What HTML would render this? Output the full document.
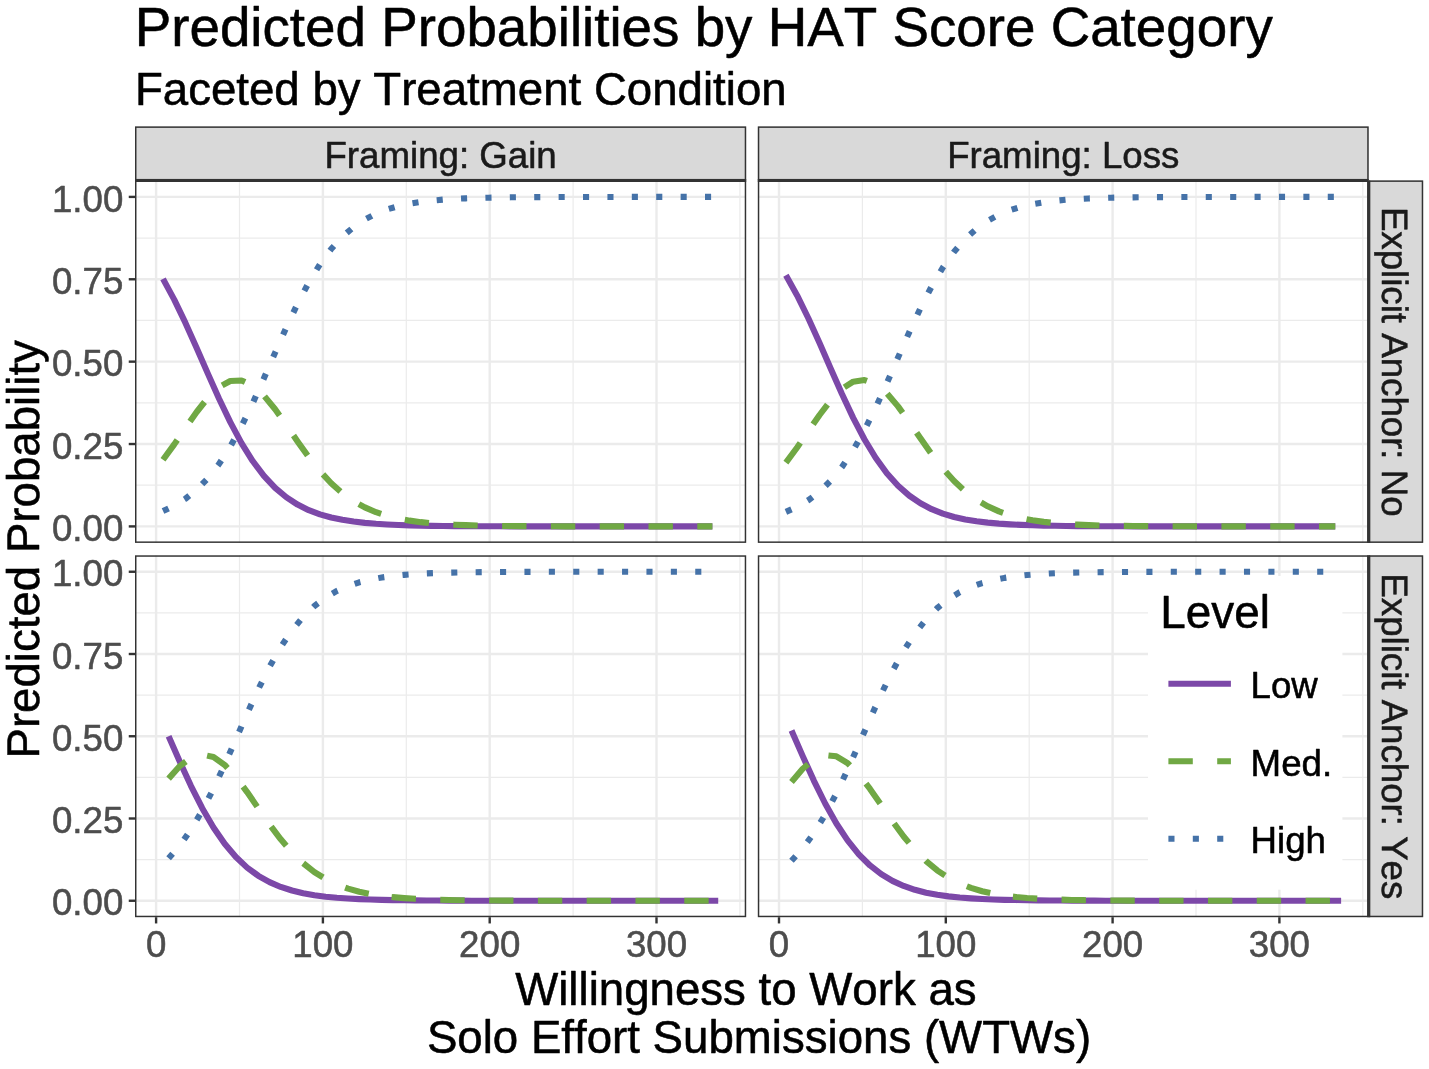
<!DOCTYPE html>
<html><head><meta charset="utf-8"><title>Predicted Probabilities by HAT Score Category</title>
<style>html,body{margin:0;padding:0;background:#fff}body{width:1429px;height:1069px;overflow:hidden;font-family:"Liberation Sans",sans-serif}svg{display:block;position:absolute;left:0;top:0;will-change:transform}svg text{stroke-width:0.55px;stroke-linejoin:round;font-kerning:none}.k{stroke:#000}.g{stroke:#4D4D4D}.s{stroke:#1A1A1A}</style>
</head><body>
<svg width="1429" height="1069" viewBox="0 0 1429 1069" font-family="'Liberation Sans', sans-serif">
<rect width="1429" height="1069" fill="#fff"/>
<defs>
<clipPath id="cp00"><rect x="135" y="180.4" width="611.2" height="362.5"/></clipPath>
<clipPath id="cp01"><rect x="757.8" y="180.4" width="610.9" height="362.5"/></clipPath>
<clipPath id="cp10"><rect x="135" y="555.3" width="611.2" height="361.9"/></clipPath>
<clipPath id="cp11"><rect x="757.8" y="555.3" width="610.9" height="361.9"/></clipPath>
</defs>
<g clip-path="url(#cp00)">
<line x1="239.5" x2="239.5" y1="180.4" y2="542.9" stroke="#EBEBEB" stroke-width="1.2"/>
<line x1="406.3" x2="406.3" y1="180.4" y2="542.9" stroke="#EBEBEB" stroke-width="1.2"/>
<line x1="573.1" x2="573.1" y1="180.4" y2="542.9" stroke="#EBEBEB" stroke-width="1.2"/>
<line x1="739.9" x2="739.9" y1="180.4" y2="542.9" stroke="#EBEBEB" stroke-width="1.2"/>
<line x1="135" x2="746.2" y1="485.21" y2="485.21" stroke="#EBEBEB" stroke-width="1.2"/>
<line x1="135" x2="746.2" y1="402.84" y2="402.84" stroke="#EBEBEB" stroke-width="1.2"/>
<line x1="135" x2="746.2" y1="320.46" y2="320.46" stroke="#EBEBEB" stroke-width="1.2"/>
<line x1="135" x2="746.2" y1="238.09" y2="238.09" stroke="#EBEBEB" stroke-width="1.2"/>
<line x1="156.1" x2="156.1" y1="180.4" y2="542.9" stroke="#EBEBEB" stroke-width="2.4"/>
<line x1="322.9" x2="322.9" y1="180.4" y2="542.9" stroke="#EBEBEB" stroke-width="2.4"/>
<line x1="489.7" x2="489.7" y1="180.4" y2="542.9" stroke="#EBEBEB" stroke-width="2.4"/>
<line x1="656.5" x2="656.5" y1="180.4" y2="542.9" stroke="#EBEBEB" stroke-width="2.4"/>
<line x1="135" x2="746.2" y1="526.4" y2="526.4" stroke="#EBEBEB" stroke-width="2.4"/>
<line x1="135" x2="746.2" y1="444.02" y2="444.02" stroke="#EBEBEB" stroke-width="2.4"/>
<line x1="135" x2="746.2" y1="361.65" y2="361.65" stroke="#EBEBEB" stroke-width="2.4"/>
<line x1="135" x2="746.2" y1="279.27" y2="279.27" stroke="#EBEBEB" stroke-width="2.4"/>
<line x1="135" x2="746.2" y1="196.9" y2="196.9" stroke="#EBEBEB" stroke-width="2.4"/>
<polyline points="163.02,278.92 174.23,299.63 185.44,322.91 196.66,347.95 207.87,373.64 219.08,398.76 230.29,422.18 241.5,443.08 252.71,461.01 263.92,475.87 275.14,487.85 286.35,497.28 297.56,504.58 308.77,510.15 319.98,514.35 331.19,517.5 342.4,519.84 353.62,521.57 364.83,522.86 376.04,523.8 387.25,524.49 398.46,525 409.67,525.38 420.88,525.65 432.09,525.85 443.31,526 454.52,526.11 465.73,526.19 476.94,526.24 488.15,526.28 499.36,526.32 510.57,526.34 521.79,526.35 533,526.37 544.21,526.38 555.42,526.38 566.63,526.39 577.84,526.39 589.05,526.39 600.26,526.39 611.48,526.4 622.69,526.4 633.9,526.4 645.11,526.4 656.32,526.4 667.53,526.4 678.74,526.4 689.96,526.4 701.17,526.4 712.38,526.4" fill="none" stroke="#7C48A8" stroke-width="6.1" stroke-linejoin="round"/>
<polyline points="163.02,459.78 174.23,444.36 184.16,429.91" fill="none" stroke="#70A844" stroke-width="6.1" stroke-linejoin="round" stroke-dasharray="24.4 24.4" stroke-dashoffset="0"/>
<polyline points="184.16,429.91 185.44,428.04 196.66,412.01 207.87,397.81 219.08,387 230.29,380.95 241.5,380.43 252.71,385.52 263.92,395.55 275.14,409.25 286.35,425.06 297.56,441.43 308.77,457.08 319.98,471.16 331.19,483.22 342.4,493.17 350.19,498.71" fill="none" stroke="#70A844" stroke-width="6.1" stroke-linejoin="round" stroke-dasharray="24.4 24.4" stroke-dashoffset="38.6"/>
<polyline points="350.19,498.71 353.62,501.14 364.83,507.38 376.04,512.18 387.25,515.83 398.46,518.58 409.67,520.63 420.88,522.15 432.09,523.28 443.31,524.11 454.52,524.72 465.73,525.17 476.94,525.5 488.15,525.74 499.36,525.92 510.57,526.05 521.79,526.14 533,526.21 544.21,526.26 555.42,526.3 566.63,526.33 577.84,526.35 589.05,526.36 600.26,526.37 611.48,526.38 622.69,526.38 633.9,526.39 645.11,526.39 656.32,526.39 667.53,526.4 678.74,526.4 689.96,526.4 701.17,526.4 712.38,526.4" fill="none" stroke="#70A844" stroke-width="6.1" stroke-linejoin="round" stroke-dasharray="24.4 24.4" stroke-dashoffset="38.6"/>
<polyline points="163.02,511 174.23,505.71 185.44,498.75 196.4,489.94" fill="none" stroke="#4572A8" stroke-width="6.1" stroke-linejoin="round" stroke-dasharray="6.1 18.3" stroke-dashoffset="0"/>
<polyline points="196.4,489.94 196.66,489.74 207.87,478.25 219.08,463.94 230.29,446.57 241.5,426.19 252.71,403.17 263.92,378.28 275.14,352.6 286.35,327.36 297.56,303.69 308.77,282.47 319.98,264.19 325.16,257.16" fill="none" stroke="#4572A8" stroke-width="6.1" stroke-linejoin="round" stroke-dasharray="6.1 18.3" stroke-dashoffset="16.25"/>
<polyline points="325.16,257.16 331.19,248.98 342.4,236.69 353.62,226.99 364.83,219.46 376.04,213.72 387.25,209.37 398.46,206.12 409.67,203.7 420.88,201.9 432.09,200.57 443.31,199.59 454.52,198.88 465.73,198.35 476.94,197.96 488.15,197.68 499.36,197.47 510.57,197.32 521.79,197.2 533,197.12 544.21,197.06 555.42,197.02 566.63,196.99 577.84,196.96 589.05,196.95 600.26,196.93 611.48,196.93 622.69,196.92 633.9,196.91 645.11,196.91 656.32,196.91 667.53,196.91 678.74,196.9 689.96,196.9 701.17,196.9 712.38,196.9" fill="none" stroke="#4572A8" stroke-width="6.1" stroke-linejoin="round" stroke-dasharray="6.1 18.3" stroke-dashoffset="16.25"/>
</g>
<g clip-path="url(#cp01)">
<line x1="862.4" x2="862.4" y1="180.4" y2="542.9" stroke="#EBEBEB" stroke-width="1.2"/>
<line x1="1029.2" x2="1029.2" y1="180.4" y2="542.9" stroke="#EBEBEB" stroke-width="1.2"/>
<line x1="1196" x2="1196" y1="180.4" y2="542.9" stroke="#EBEBEB" stroke-width="1.2"/>
<line x1="1362.8" x2="1362.8" y1="180.4" y2="542.9" stroke="#EBEBEB" stroke-width="1.2"/>
<line x1="757.8" x2="1368.7" y1="485.21" y2="485.21" stroke="#EBEBEB" stroke-width="1.2"/>
<line x1="757.8" x2="1368.7" y1="402.84" y2="402.84" stroke="#EBEBEB" stroke-width="1.2"/>
<line x1="757.8" x2="1368.7" y1="320.46" y2="320.46" stroke="#EBEBEB" stroke-width="1.2"/>
<line x1="757.8" x2="1368.7" y1="238.09" y2="238.09" stroke="#EBEBEB" stroke-width="1.2"/>
<line x1="779" x2="779" y1="180.4" y2="542.9" stroke="#EBEBEB" stroke-width="2.4"/>
<line x1="945.8" x2="945.8" y1="180.4" y2="542.9" stroke="#EBEBEB" stroke-width="2.4"/>
<line x1="1112.6" x2="1112.6" y1="180.4" y2="542.9" stroke="#EBEBEB" stroke-width="2.4"/>
<line x1="1279.4" x2="1279.4" y1="180.4" y2="542.9" stroke="#EBEBEB" stroke-width="2.4"/>
<line x1="757.8" x2="1368.7" y1="526.4" y2="526.4" stroke="#EBEBEB" stroke-width="2.4"/>
<line x1="757.8" x2="1368.7" y1="444.02" y2="444.02" stroke="#EBEBEB" stroke-width="2.4"/>
<line x1="757.8" x2="1368.7" y1="361.65" y2="361.65" stroke="#EBEBEB" stroke-width="2.4"/>
<line x1="757.8" x2="1368.7" y1="279.27" y2="279.27" stroke="#EBEBEB" stroke-width="2.4"/>
<line x1="757.8" x2="1368.7" y1="196.9" y2="196.9" stroke="#EBEBEB" stroke-width="2.4"/>
<polyline points="785.92,275.25 797.13,295.41 808.34,318.24 819.56,343.02 830.77,368.68 841.98,394 853.19,417.83 864.4,439.27 875.61,457.78 886.82,473.23 898.04,485.74 909.25,495.64 920.46,503.31 931.67,509.19 942.88,513.63 954.09,516.96 965.3,519.44 976.52,521.28 987.73,522.64 998.94,523.64 1010.15,524.38 1021.36,524.92 1032.57,525.31 1043.78,525.6 1054.99,525.82 1066.21,525.97 1077.42,526.09 1088.63,526.17 1099.84,526.23 1111.05,526.28 1122.26,526.31 1133.47,526.33 1144.69,526.35 1155.9,526.36 1167.11,526.37 1178.32,526.38 1189.53,526.39 1200.74,526.39 1211.95,526.39 1223.16,526.39 1234.38,526.4 1245.59,526.4 1256.8,526.4 1268.01,526.4 1279.22,526.4 1290.43,526.4 1301.64,526.4 1312.86,526.4 1324.07,526.4 1335.28,526.4" fill="none" stroke="#7C48A8" stroke-width="6.1" stroke-linejoin="round"/>
<polyline points="785.92,462.58 797.13,447.44 807.23,432.83" fill="none" stroke="#70A844" stroke-width="6.1" stroke-linejoin="round" stroke-dasharray="24.4 24.4" stroke-dashoffset="0"/>
<polyline points="807.23,432.83 808.34,431.22 819.56,415.02 830.77,400.34 841.98,388.76 853.19,381.7 864.4,380.08 875.61,384.12 886.82,393.28 898.04,406.39 909.25,421.92 920.46,438.29 931.67,454.16 942.88,468.59 954.09,481.05 965.3,491.41 972.45,496.72" fill="none" stroke="#70A844" stroke-width="6.1" stroke-linejoin="round" stroke-dasharray="24.4 24.4" stroke-dashoffset="38.5"/>
<polyline points="972.45,496.72 976.52,499.74 987.73,506.29 998.94,511.35 1010.15,515.21 1021.36,518.11 1032.57,520.28 1043.78,521.89 1054.99,523.08 1066.21,523.97 1077.42,524.61 1088.63,525.09 1099.84,525.44 1111.05,525.7 1122.26,525.89 1133.47,526.02 1144.69,526.12 1155.9,526.2 1167.11,526.25 1178.32,526.29 1189.53,526.32 1200.74,526.34 1211.95,526.36 1223.16,526.37 1234.38,526.38 1245.59,526.38 1256.8,526.39 1268.01,526.39 1279.22,526.39 1290.43,526.4 1301.64,526.4 1312.86,526.4 1324.07,526.4 1335.28,526.4" fill="none" stroke="#70A844" stroke-width="6.1" stroke-linejoin="round" stroke-dasharray="24.4 24.4" stroke-dashoffset="38.5"/>
<polyline points="785.92,511.87 797.13,506.85 808.34,500.25 819.56,491.66 819.72,491.5" fill="none" stroke="#4572A8" stroke-width="6.1" stroke-linejoin="round" stroke-dasharray="6.1 18.3" stroke-dashoffset="0"/>
<polyline points="819.72,491.5 830.77,480.68 841.98,466.94 853.19,450.17 864.4,430.35 875.61,407.8 886.82,383.2 898.04,357.57 909.25,332.15 920.46,308.1 931.67,286.35 942.88,267.49 948.87,259.05" fill="none" stroke="#4572A8" stroke-width="6.1" stroke-linejoin="round" stroke-dasharray="6.1 18.3" stroke-dashoffset="16.25"/>
<polyline points="948.87,259.05 954.09,251.69 965.3,238.86 976.52,228.68 987.73,220.77 998.94,214.71 1010.15,210.12 1021.36,206.68 1032.57,204.11 1043.78,202.21 1054.99,200.8 1066.21,199.76 1077.42,199 1088.63,198.44 1099.84,198.03 1111.05,197.72 1122.26,197.5 1133.47,197.34 1144.69,197.22 1155.9,197.14 1167.11,197.07 1178.32,197.03 1189.53,196.99 1200.74,196.97 1211.95,196.95 1223.16,196.94 1234.38,196.93 1245.59,196.92 1256.8,196.91 1268.01,196.91 1279.22,196.91 1290.43,196.91 1301.64,196.9 1312.86,196.9 1324.07,196.9 1335.28,196.9" fill="none" stroke="#4572A8" stroke-width="6.1" stroke-linejoin="round" stroke-dasharray="6.1 18.3" stroke-dashoffset="16.25"/>
</g>
<g clip-path="url(#cp10)">
<line x1="239.5" x2="239.5" y1="555.3" y2="917.2" stroke="#EBEBEB" stroke-width="1.2"/>
<line x1="406.3" x2="406.3" y1="555.3" y2="917.2" stroke="#EBEBEB" stroke-width="1.2"/>
<line x1="573.1" x2="573.1" y1="555.3" y2="917.2" stroke="#EBEBEB" stroke-width="1.2"/>
<line x1="739.9" x2="739.9" y1="555.3" y2="917.2" stroke="#EBEBEB" stroke-width="1.2"/>
<line x1="135" x2="746.2" y1="859.62" y2="859.62" stroke="#EBEBEB" stroke-width="1.2"/>
<line x1="135" x2="746.2" y1="777.38" y2="777.38" stroke="#EBEBEB" stroke-width="1.2"/>
<line x1="135" x2="746.2" y1="695.12" y2="695.12" stroke="#EBEBEB" stroke-width="1.2"/>
<line x1="135" x2="746.2" y1="612.88" y2="612.88" stroke="#EBEBEB" stroke-width="1.2"/>
<line x1="156.1" x2="156.1" y1="555.3" y2="917.2" stroke="#EBEBEB" stroke-width="2.4"/>
<line x1="322.9" x2="322.9" y1="555.3" y2="917.2" stroke="#EBEBEB" stroke-width="2.4"/>
<line x1="489.7" x2="489.7" y1="555.3" y2="917.2" stroke="#EBEBEB" stroke-width="2.4"/>
<line x1="656.5" x2="656.5" y1="555.3" y2="917.2" stroke="#EBEBEB" stroke-width="2.4"/>
<line x1="135" x2="746.2" y1="900.75" y2="900.75" stroke="#EBEBEB" stroke-width="2.4"/>
<line x1="135" x2="746.2" y1="818.5" y2="818.5" stroke="#EBEBEB" stroke-width="2.4"/>
<line x1="135" x2="746.2" y1="736.25" y2="736.25" stroke="#EBEBEB" stroke-width="2.4"/>
<line x1="135" x2="746.2" y1="654" y2="654" stroke="#EBEBEB" stroke-width="2.4"/>
<line x1="135" x2="746.2" y1="571.75" y2="571.75" stroke="#EBEBEB" stroke-width="2.4"/>
<polyline points="168.61,736.25 179.83,761.76 191.04,786.07 202.26,808.21 213.48,827.52 224.69,843.78 235.91,857.05 247.13,867.6 258.34,875.83 269.56,882.14 280.77,886.93 291.99,890.52 303.21,893.21 314.42,895.2 325.64,896.67 336.86,897.76 348.07,898.55 359.29,899.14 370.51,899.57 381.72,899.89 392.94,900.12 404.16,900.29 415.37,900.41 426.59,900.5 437.8,900.57 449.02,900.62 460.24,900.65 471.45,900.68 482.67,900.7 493.89,900.71 505.1,900.72 516.32,900.73 527.54,900.74 538.75,900.74 549.97,900.74 561.19,900.74 572.4,900.75 583.62,900.75 594.84,900.75 606.05,900.75 617.27,900.75 628.48,900.75 639.7,900.75 650.92,900.75 662.13,900.75 673.35,900.75 684.57,900.75 695.78,900.75 707,900.75 718.22,900.75" fill="none" stroke="#7C48A8" stroke-width="6.1" stroke-linejoin="round"/>
<polyline points="168.61,778.64 179.83,766.08 191.04,757.68 196.57,756.12" fill="none" stroke="#70A844" stroke-width="6.1" stroke-linejoin="round" stroke-dasharray="24.4 24.4" stroke-dashoffset="0"/>
<polyline points="196.57,756.12 202.26,754.53 213.48,757.05 224.69,764.9 235.91,777.07 247.13,792.09 258.34,808.37 269.56,824.47 280.77,839.33 291.99,852.34 303.21,863.25 314.42,872.09 325.64,879.09 336.86,884.51 348.07,888.65 359.29,891.78 370.51,894.12 380.79,895.72" fill="none" stroke="#70A844" stroke-width="6.1" stroke-linejoin="round" stroke-dasharray="24.4 24.4" stroke-dashoffset="37.95"/>
<polyline points="380.79,895.72 381.72,895.87 392.94,897.16 404.16,898.11 415.37,898.82 426.59,899.33 437.8,899.71 449.02,899.99 460.24,900.19 471.45,900.34 482.67,900.45 493.89,900.53 505.1,900.59 516.32,900.63 527.54,900.66 538.75,900.69 549.97,900.7 561.19,900.72 572.4,900.73 583.62,900.73 594.84,900.74 606.05,900.74 617.27,900.74 628.48,900.74 639.7,900.75 650.92,900.75 662.13,900.75 673.35,900.75 684.57,900.75 695.78,900.75 707,900.75 718.22,900.75" fill="none" stroke="#70A844" stroke-width="6.1" stroke-linejoin="round" stroke-dasharray="24.4 24.4" stroke-dashoffset="37.95"/>
<polyline points="168.61,858.36 179.83,845.41 191.04,829.5 192.6,826.87" fill="none" stroke="#4572A8" stroke-width="6.1" stroke-linejoin="round" stroke-dasharray="6.1 18.3" stroke-dashoffset="0"/>
<polyline points="192.6,826.87 202.26,810.52 213.48,788.68 224.69,764.56 235.91,739.13 247.13,713.56 258.34,689.06 269.56,666.64 280.77,646.99 291.99,630.39 303.21,616.8 314.42,605.96 325.31,597.74" fill="none" stroke="#4572A8" stroke-width="6.1" stroke-linejoin="round" stroke-dasharray="6.1 18.3" stroke-dashoffset="16.25"/>
<polyline points="325.31,597.74 325.64,597.49 336.86,590.98 348.07,586.04 359.29,582.33 370.51,579.56 381.72,577.5 392.94,575.97 404.16,574.85 415.37,574.02 426.59,573.42 437.8,572.97 449.02,572.64 460.24,572.4 471.45,572.23 482.67,572.1 493.89,572.01 505.1,571.94 516.32,571.89 527.54,571.85 538.75,571.82 549.97,571.8 561.19,571.79 572.4,571.78 583.62,571.77 594.84,571.77 606.05,571.76 617.27,571.76 628.48,571.76 639.7,571.75 650.92,571.75 662.13,571.75 673.35,571.75 684.57,571.75 695.78,571.75 707,571.75 718.22,571.75" fill="none" stroke="#4572A8" stroke-width="6.1" stroke-linejoin="round" stroke-dasharray="6.1 18.3" stroke-dashoffset="16.25"/>
</g>
<g clip-path="url(#cp11)">
<line x1="862.4" x2="862.4" y1="555.3" y2="917.2" stroke="#EBEBEB" stroke-width="1.2"/>
<line x1="1029.2" x2="1029.2" y1="555.3" y2="917.2" stroke="#EBEBEB" stroke-width="1.2"/>
<line x1="1196" x2="1196" y1="555.3" y2="917.2" stroke="#EBEBEB" stroke-width="1.2"/>
<line x1="1362.8" x2="1362.8" y1="555.3" y2="917.2" stroke="#EBEBEB" stroke-width="1.2"/>
<line x1="757.8" x2="1368.7" y1="859.62" y2="859.62" stroke="#EBEBEB" stroke-width="1.2"/>
<line x1="757.8" x2="1368.7" y1="777.38" y2="777.38" stroke="#EBEBEB" stroke-width="1.2"/>
<line x1="757.8" x2="1368.7" y1="695.12" y2="695.12" stroke="#EBEBEB" stroke-width="1.2"/>
<line x1="757.8" x2="1368.7" y1="612.88" y2="612.88" stroke="#EBEBEB" stroke-width="1.2"/>
<line x1="779" x2="779" y1="555.3" y2="917.2" stroke="#EBEBEB" stroke-width="2.4"/>
<line x1="945.8" x2="945.8" y1="555.3" y2="917.2" stroke="#EBEBEB" stroke-width="2.4"/>
<line x1="1112.6" x2="1112.6" y1="555.3" y2="917.2" stroke="#EBEBEB" stroke-width="2.4"/>
<line x1="1279.4" x2="1279.4" y1="555.3" y2="917.2" stroke="#EBEBEB" stroke-width="2.4"/>
<line x1="757.8" x2="1368.7" y1="900.75" y2="900.75" stroke="#EBEBEB" stroke-width="2.4"/>
<line x1="757.8" x2="1368.7" y1="818.5" y2="818.5" stroke="#EBEBEB" stroke-width="2.4"/>
<line x1="757.8" x2="1368.7" y1="736.25" y2="736.25" stroke="#EBEBEB" stroke-width="2.4"/>
<line x1="757.8" x2="1368.7" y1="654" y2="654" stroke="#EBEBEB" stroke-width="2.4"/>
<line x1="757.8" x2="1368.7" y1="571.75" y2="571.75" stroke="#EBEBEB" stroke-width="2.4"/>
<polyline points="791.51,730.52 802.73,756.13 813.94,780.81 825.16,803.5 836.38,823.48 847.59,840.42 858.81,854.34 870.03,865.46 881.24,874.17 892.46,880.88 903.67,885.97 914.89,889.81 926.11,892.68 937.32,894.8 948.54,896.38 959.76,897.54 970.97,898.4 982.19,899.03 993.41,899.49 1004.62,899.83 1015.84,900.07 1027.06,900.25 1038.27,900.39 1049.49,900.48 1060.7,900.56 1071.92,900.61 1083.14,900.65 1094.35,900.67 1105.57,900.69 1116.79,900.71 1128,900.72 1139.22,900.73 1150.44,900.73 1161.65,900.74 1172.87,900.74 1184.09,900.74 1195.3,900.75 1206.52,900.75 1217.74,900.75 1228.95,900.75 1240.17,900.75 1251.38,900.75 1262.6,900.75 1273.82,900.75 1285.03,900.75 1296.25,900.75 1307.47,900.75 1318.68,900.75 1329.9,900.75 1341.12,900.75" fill="none" stroke="#7C48A8" stroke-width="6.1" stroke-linejoin="round"/>
<polyline points="791.51,782.03 802.73,768.77 813.94,759.37 818.23,757.72" fill="none" stroke="#70A844" stroke-width="6.1" stroke-linejoin="round" stroke-dasharray="24.4 24.4" stroke-dashoffset="0"/>
<polyline points="818.23,757.72 825.16,755.04 836.38,756.34 847.59,763.1 858.81,774.44 870.03,788.96 881.24,805.06 892.46,821.27 903.67,836.44 914.89,849.85 926.11,861.19 937.32,870.44 948.54,877.79 959.76,883.51 970.97,887.89 982.19,891.21 993.41,893.7 1002.27,895.16" fill="none" stroke="#70A844" stroke-width="6.1" stroke-linejoin="round" stroke-dasharray="24.4 24.4" stroke-dashoffset="38.1"/>
<polyline points="1002.27,895.16 1004.62,895.55 1015.84,896.92 1027.06,897.94 1038.27,898.69 1049.49,899.24 1060.7,899.64 1071.92,899.94 1083.14,900.16 1094.35,900.32 1105.57,900.43 1116.79,900.52 1128,900.58 1139.22,900.63 1150.44,900.66 1161.65,900.68 1172.87,900.7 1184.09,900.71 1195.3,900.72 1206.52,900.73 1217.74,900.74 1228.95,900.74 1240.17,900.74 1251.38,900.74 1262.6,900.75 1273.82,900.75 1285.03,900.75 1296.25,900.75 1307.47,900.75 1318.68,900.75 1329.9,900.75 1341.12,900.75" fill="none" stroke="#70A844" stroke-width="6.1" stroke-linejoin="round" stroke-dasharray="24.4 24.4" stroke-dashoffset="38.1"/>
<polyline points="791.51,860.7 802.73,848.35 813.94,833.07 816.03,829.65" fill="none" stroke="#4572A8" stroke-width="6.1" stroke-linejoin="round" stroke-dasharray="6.1 18.3" stroke-dashoffset="0"/>
<polyline points="816.03,829.65 825.16,814.72 836.38,793.44 847.59,769.73 858.81,744.48 870.03,718.83 881.24,694.01 892.46,671.1 903.67,650.83 914.89,633.59 926.11,619.39 937.32,608.01 947.84,599.64" fill="none" stroke="#4572A8" stroke-width="6.1" stroke-linejoin="round" stroke-dasharray="6.1 18.3" stroke-dashoffset="16.25"/>
<polyline points="947.84,599.64 948.54,599.08 959.76,592.2 970.97,586.96 982.19,583.02 993.41,580.07 1004.62,577.88 1015.84,576.25 1027.06,575.06 1038.27,574.17 1049.49,573.53 1060.7,573.05 1071.92,572.7 1083.14,572.45 1094.35,572.26 1105.57,572.12 1116.79,572.02 1128,571.95 1139.22,571.9 1150.44,571.86 1161.65,571.83 1172.87,571.81 1184.09,571.79 1195.3,571.78 1206.52,571.77 1217.74,571.77 1228.95,571.76 1240.17,571.76 1251.38,571.76 1262.6,571.75 1273.82,571.75 1285.03,571.75 1296.25,571.75 1307.47,571.75 1318.68,571.75 1329.9,571.75 1341.12,571.75" fill="none" stroke="#4572A8" stroke-width="6.1" stroke-linejoin="round" stroke-dasharray="6.1 18.3" stroke-dashoffset="16.25"/>
</g>
<rect x="1148" y="576" width="194.4" height="313.7" fill="#fff"/>
<text x="1160.3" y="628.0" font-size="45.83" fill="#000" class="k">Level</text>
<line x1="1168.4" x2="1230.9" y1="683.8" y2="683.8" stroke="#7C48A8" stroke-width="6.1"/>
<text x="1250.6" y="698.1" font-size="36.67" fill="#000" class="k">Low</text>
<line x1="1168.4" x2="1230.9" y1="761.2" y2="761.2" stroke="#70A844" stroke-width="6.1" stroke-dasharray="24.4 24.4"/>
<text x="1250.6" y="775.5" font-size="36.67" fill="#000" class="k">Med.</text>
<line x1="1168.4" x2="1230.9" y1="838.8" y2="838.8" stroke="#4572A8" stroke-width="6.1" stroke-dasharray="6.1 18.3"/>
<text x="1250.6" y="853.1" font-size="36.67" fill="#000" class="k">High</text>
<rect x="135.74" y="181.14" width="609.72" height="361.02" fill="none" stroke="#333333" stroke-width="1.48"/>
<rect x="758.54" y="181.14" width="609.42" height="361.02" fill="none" stroke="#333333" stroke-width="1.48"/>
<rect x="135.74" y="556.04" width="609.72" height="360.42" fill="none" stroke="#333333" stroke-width="1.48"/>
<rect x="758.54" y="556.04" width="609.42" height="360.42" fill="none" stroke="#333333" stroke-width="1.48"/>
<rect x="135" y="126.4" width="611.2" height="54" fill="#D9D9D9"/>
<rect x="135.74" y="127.14" width="609.72" height="52.52" fill="none" stroke="#333333" stroke-width="1.48"/>
<line x1="135" x2="746.2" y1="180.4" y2="180.4" stroke="#333333" stroke-width="2.96"/>
<text x="440.6" y="168.3" font-size="36.67" fill="#1A1A1A" class="s" text-anchor="middle">Framing: Gain</text>
<rect x="757.8" y="126.4" width="610.9" height="54" fill="#D9D9D9"/>
<rect x="758.54" y="127.14" width="609.42" height="52.52" fill="none" stroke="#333333" stroke-width="1.48"/>
<line x1="757.8" x2="1368.7" y1="180.4" y2="180.4" stroke="#333333" stroke-width="2.96"/>
<text x="1063.25" y="168.3" font-size="36.67" fill="#1A1A1A" class="s" text-anchor="middle">Framing: Loss</text>
<rect x="1368.7" y="180.4" width="54.5" height="362.5" fill="#D9D9D9"/>
<rect x="1369.44" y="181.14" width="53.02" height="361.02" fill="none" stroke="#333333" stroke-width="1.48"/>
<line x1="1368.7" x2="1368.7" y1="180.4" y2="542.9" stroke="#333333" stroke-width="2.96"/>
<text transform="translate(1382.0,361.75) rotate(90)" text-rendering="geometricPrecision" font-size="36.67" fill="#1A1A1A" class="s" text-anchor="middle">Explicit Anchor: No</text>
<rect x="1368.7" y="555.3" width="54.5" height="361.9" fill="#D9D9D9"/>
<rect x="1369.44" y="556.04" width="53.02" height="360.42" fill="none" stroke="#333333" stroke-width="1.48"/>
<line x1="1368.7" x2="1368.7" y1="555.3" y2="917.2" stroke="#333333" stroke-width="2.96"/>
<text transform="translate(1382.0,736.35) rotate(90)" text-rendering="geometricPrecision" font-size="36.67" fill="#1A1A1A" class="s" text-anchor="middle">Explicit Anchor: Yes</text>
<line x1="128.75" x2="135" y1="526.4" y2="526.4" stroke="#333333" stroke-width="2.4"/>
<text x="123.3" y="541" font-size="36.67" fill="#4D4D4D" class="g" text-anchor="end">0.00</text>
<line x1="128.75" x2="135" y1="444.02" y2="444.02" stroke="#333333" stroke-width="2.4"/>
<text x="123.3" y="458.62" font-size="36.67" fill="#4D4D4D" class="g" text-anchor="end">0.25</text>
<line x1="128.75" x2="135" y1="361.65" y2="361.65" stroke="#333333" stroke-width="2.4"/>
<text x="123.3" y="376.25" font-size="36.67" fill="#4D4D4D" class="g" text-anchor="end">0.50</text>
<line x1="128.75" x2="135" y1="279.27" y2="279.27" stroke="#333333" stroke-width="2.4"/>
<text x="123.3" y="293.88" font-size="36.67" fill="#4D4D4D" class="g" text-anchor="end">0.75</text>
<line x1="128.75" x2="135" y1="196.9" y2="196.9" stroke="#333333" stroke-width="2.4"/>
<text x="123.3" y="211.5" font-size="36.67" fill="#4D4D4D" class="g" text-anchor="end">1.00</text>
<line x1="128.75" x2="135" y1="900.75" y2="900.75" stroke="#333333" stroke-width="2.4"/>
<text x="123.3" y="915.35" font-size="36.67" fill="#4D4D4D" class="g" text-anchor="end">0.00</text>
<line x1="128.75" x2="135" y1="818.5" y2="818.5" stroke="#333333" stroke-width="2.4"/>
<text x="123.3" y="833.1" font-size="36.67" fill="#4D4D4D" class="g" text-anchor="end">0.25</text>
<line x1="128.75" x2="135" y1="736.25" y2="736.25" stroke="#333333" stroke-width="2.4"/>
<text x="123.3" y="750.85" font-size="36.67" fill="#4D4D4D" class="g" text-anchor="end">0.50</text>
<line x1="128.75" x2="135" y1="654" y2="654" stroke="#333333" stroke-width="2.4"/>
<text x="123.3" y="668.6" font-size="36.67" fill="#4D4D4D" class="g" text-anchor="end">0.75</text>
<line x1="128.75" x2="135" y1="571.75" y2="571.75" stroke="#333333" stroke-width="2.4"/>
<text x="123.3" y="586.35" font-size="36.67" fill="#4D4D4D" class="g" text-anchor="end">1.00</text>
<line x1="156.1" x2="156.1" y1="917.2" y2="923.45" stroke="#333333" stroke-width="2.4"/>
<text x="156.1" y="957.4" font-size="36.67" fill="#4D4D4D" class="g" text-anchor="middle">0</text>
<line x1="322.9" x2="322.9" y1="917.2" y2="923.45" stroke="#333333" stroke-width="2.4"/>
<text x="322.9" y="957.4" font-size="36.67" fill="#4D4D4D" class="g" text-anchor="middle">100</text>
<line x1="489.7" x2="489.7" y1="917.2" y2="923.45" stroke="#333333" stroke-width="2.4"/>
<text x="489.7" y="957.4" font-size="36.67" fill="#4D4D4D" class="g" text-anchor="middle">200</text>
<line x1="656.5" x2="656.5" y1="917.2" y2="923.45" stroke="#333333" stroke-width="2.4"/>
<text x="656.5" y="957.4" font-size="36.67" fill="#4D4D4D" class="g" text-anchor="middle">300</text>
<line x1="779" x2="779" y1="917.2" y2="923.45" stroke="#333333" stroke-width="2.4"/>
<text x="779" y="957.4" font-size="36.67" fill="#4D4D4D" class="g" text-anchor="middle">0</text>
<line x1="945.8" x2="945.8" y1="917.2" y2="923.45" stroke="#333333" stroke-width="2.4"/>
<text x="945.8" y="957.4" font-size="36.67" fill="#4D4D4D" class="g" text-anchor="middle">100</text>
<line x1="1112.6" x2="1112.6" y1="917.2" y2="923.45" stroke="#333333" stroke-width="2.4"/>
<text x="1112.6" y="957.4" font-size="36.67" fill="#4D4D4D" class="g" text-anchor="middle">200</text>
<line x1="1279.4" x2="1279.4" y1="917.2" y2="923.45" stroke="#333333" stroke-width="2.4"/>
<text x="1279.4" y="957.4" font-size="36.67" fill="#4D4D4D" class="g" text-anchor="middle">300</text>
<text x="134.7" y="46.2" font-size="54.76" fill="#000" class="k">Predicted Probabilities by HAT Score Category</text>
<text x="134.9" y="104.7" font-size="45.63" fill="#000" class="k">Faceted by Treatment Condition</text>
<text x="745.9" y="1004.5" font-size="45.63" fill="#000" class="k" text-anchor="middle">Willingness to Work as</text>
<text x="759" y="1053.1" font-size="45.63" fill="#000" class="k" text-anchor="middle">Solo Effort Submissions (WTWs)</text>
<text transform="translate(38.9,549.3) rotate(-90)" text-rendering="geometricPrecision" font-size="45.63" fill="#000" class="k" text-anchor="middle">Predicted Probability</text>
</svg>
</body></html>
